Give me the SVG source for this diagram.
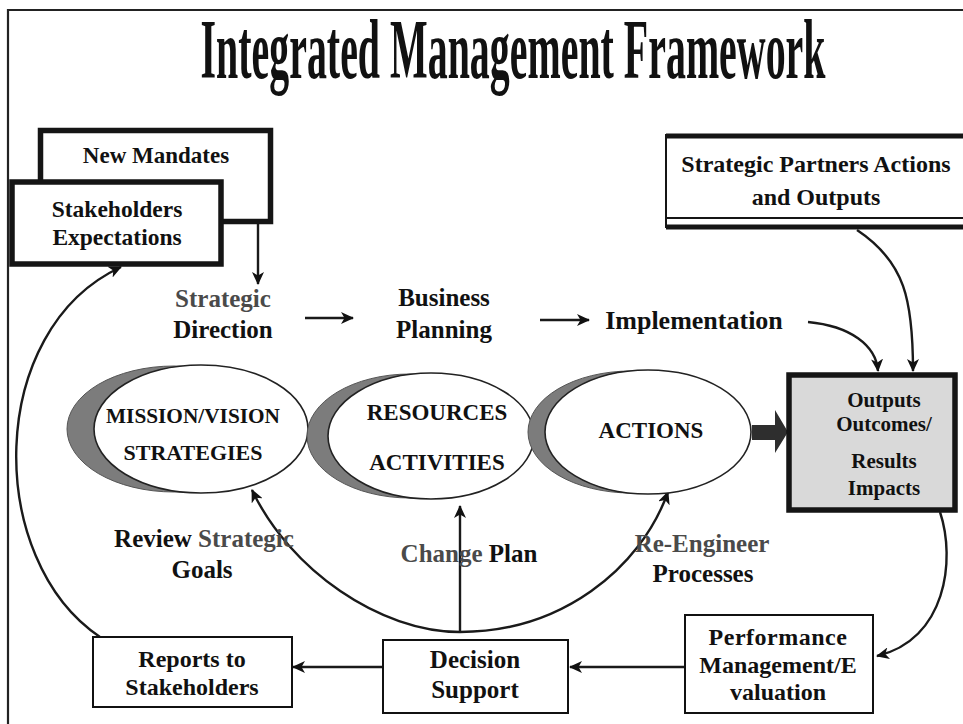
<svg xmlns="http://www.w3.org/2000/svg" width="963" height="724" viewBox="0 0 963 724">
<defs>
<style>
.t{font-family:"Liberation Serif","Times New Roman",serif;font-weight:bold;text-anchor:middle;fill:#111}
.g{fill:#4a4a4a}
.box{fill:#fff;stroke:#111;stroke-width:2}
.thick{fill:#fff;stroke:#151515;stroke-width:5.5}
.ell{fill:#fff;stroke:#222;stroke-width:1.6}
.shadow{fill:#7c7c7c;stroke:#555;stroke-width:1}
.c{fill:none;stroke:#1a1a1a;stroke-width:2.4}
</style>
<marker id="ah" markerWidth="14" markerHeight="12" refX="12" refY="6" orient="auto" markerUnits="userSpaceOnUse">
<path d="M0,0 L13,6 L0,12 L3.5,6 z" fill="#111"/>
</marker>
</defs>
<rect width="963" height="724" fill="#fff"/>
<g id="frame">
<path d="M8,724 L8,10 L963,10" fill="none" stroke="#222" stroke-width="2.2"/>
</g>
<g id="title">
<text class="t" transform="translate(513,78) scale(0.5,1)" x="0" y="0" font-size="84" textLength="1250" lengthAdjust="spacingAndGlyphs">Integrated Management Framework</text>
</g>

<g id="connectors">
<path class="c" d="M258,222 L258,284" marker-end="url(#ah)" stroke-width="1.8"/>
<path class="c" d="M305,318 L353,318" marker-end="url(#ah)" stroke-width="2.8"/>
<path class="c" d="M540,320 L589,320" marker-end="url(#ah)" stroke-width="2.8"/>
<path class="c" d="M808,322 C850,326 876,345 878,371" marker-end="url(#ah)" stroke-width="3"/>
<path class="c" d="M857,230 C905,262 913,300 913,371" marker-end="url(#ah)" stroke-width="2"/>
<path class="c" d="M940,512 C956,560 946,640 877,656" marker-end="url(#ah)" stroke-width="2"/>
<path class="c" d="M685,667 L570,667" marker-end="url(#ah)" stroke-width="2"/>
<path class="c" d="M383,667 L293,667" marker-end="url(#ah)" stroke-width="2"/>
<path class="c" d="M100,637 C-15,560 -15,330 121,267" marker-end="url(#ah)" stroke-width="1.8"/>
<path class="c" d="M460,632 C380,632 290,570 252,490" marker-end="url(#ah)" stroke-width="3"/>
<path class="c" d="M460,632 C560,632 640,570 668,492" marker-end="url(#ah)" stroke-width="3"/>
<path class="c" d="M460,632 L460,506" marker-end="url(#ah)" stroke-width="2.6"/>
<polygon points="752,425 775,425 775,410 788,432 775,453 775,440 752,440" fill="#2e2e2e"/>
</g>

<g id="new-mandates">
<rect class="thick" x="40.5" y="130.5" width="230" height="91"/>
<text class="t" x="156" y="163" font-size="23">New Mandates</text>
</g>
<g id="stakeholders-expectations">
<rect class="thick" x="12" y="182" width="209" height="82" stroke-width="6"/>
<text class="t" x="117" y="217" font-size="23.5">Stakeholders</text>
<text class="t" x="117" y="245" font-size="23.5">Expectations</text>
</g>
<g id="strategic-partners">
<rect x="666" y="135" width="300" height="92" fill="#fff" stroke="#151515" stroke-width="2"/>
<line x1="666" y1="136" x2="963" y2="136" stroke="#151515" stroke-width="5"/>
<line x1="666" y1="218" x2="963" y2="218" stroke="#151515" stroke-width="2"/>
<line x1="666" y1="227" x2="963" y2="227" stroke="#151515" stroke-width="5"/>
<text class="t" x="816" y="172" font-size="24">Strategic Partners Actions</text>
<text class="t" x="816" y="205" font-size="24">and Outputs</text>
</g>

<g id="strategic-direction">
<text class="t g" x="223" y="307" font-size="25">Strategic</text>
<text class="t" x="223" y="338" font-size="25">Direction</text>
</g>
<g id="business-planning">
<text class="t" x="444" y="306" font-size="25">Business</text>
<text class="t" x="444" y="338" font-size="25">Planning</text>
</g>
<g id="implementation">
<text class="t" x="694" y="329" font-size="26">Implementation</text>
</g>

<g id="mission-vision">
<ellipse class="shadow" cx="174" cy="429" rx="107" ry="63"/>
<ellipse class="ell" cx="201" cy="429" rx="107" ry="64"/>
<text class="t" x="193" y="423" font-size="22" textLength="174" lengthAdjust="spacingAndGlyphs">MISSION/VISION</text>
<text class="t" x="193" y="460" font-size="22">STRATEGIES</text>
</g>
<g id="resources-activities">
<ellipse class="shadow" cx="410" cy="436" rx="103" ry="62"/>
<ellipse class="ell" cx="431" cy="436" rx="103" ry="63"/>
<text class="t" x="437" y="420" font-size="23">RESOURCES</text>
<text class="t" x="437" y="470" font-size="23">ACTIVITIES</text>
</g>
<g id="actions">
<ellipse class="shadow" cx="631" cy="432" rx="103" ry="61"/>
<ellipse class="ell" cx="648" cy="432" rx="103" ry="62"/>
<text class="t" x="651" y="438" font-size="23">ACTIONS</text>
</g>

<g id="outputs">
<rect x="789" y="375" width="166" height="135" fill="#d9d9d9" stroke="#151515" stroke-width="5.5"/>
<text class="t" x="884" y="407" font-size="21">Outputs</text>
<text class="t" x="884" y="431" font-size="21">Outcomes/</text>
<text class="t" x="884" y="468" font-size="21">Results</text>
<text class="t" x="884" y="495" font-size="21">Impacts</text>
</g>

<g id="review-label">
<text class="t" x="204" y="547" font-size="25">Review <tspan class="g">Strategic</tspan></text>
<text class="t" x="202" y="578" font-size="25">Goals</text>
</g>
<g id="change-label">
<text class="t" x="469" y="562" font-size="25"><tspan class="g">Change</tspan> Plan</text>
</g>
<g id="reengineer-label">
<text class="t g" x="702" y="552" font-size="25">Re-Engineer</text>
<text class="t" x="703" y="582" font-size="25">Processes</text>
</g>

<g id="performance">
<rect class="box" x="685" y="615" width="188" height="98"/>
<text class="t" x="778" y="645" font-size="24" letter-spacing="0.5">Performance</text>
<text class="t" x="778" y="673" font-size="24">Management/E</text>
<text class="t" x="778" y="700" font-size="24">valuation</text>
</g>
<g id="decision-support">
<rect class="box" x="383" y="640" width="185" height="73"/>
<text class="t" x="475" y="668" font-size="25">Decision</text>
<text class="t" x="475" y="698" font-size="25">Support</text>
</g>
<g id="reports">
<rect class="box" x="93" y="637" width="199" height="70"/>
<text class="t" x="192" y="667" font-size="24">Reports to</text>
<text class="t" x="192" y="695" font-size="24">Stakeholders</text>
</g>
</svg>
